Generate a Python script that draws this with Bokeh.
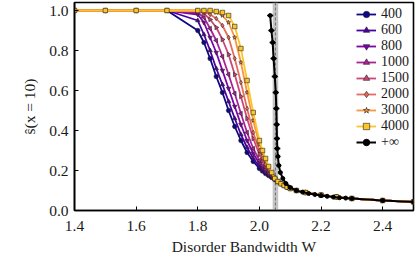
import numpy as np
from bokeh.plotting import figure
from bokeh.models import BoxAnnotation, Span, Legend, LegendItem
from bokeh.embed import file_html
from bokeh.resources import INLINE

# ---------------- data ----------------
labels = ["400", "600", "800", "1000", "1500", "2000", "3000", "4000"]

W_head = [1.4, 1.5, 1.6, 1.7, 1.8, 1.82, 1.84, 1.86, 1.88, 1.9, 1.92, 1.94,
          1.96, 1.98, 2.0, 2.01, 2.02, 2.03, 2.04, 2.05]
W_tail = [2.06, 2.07, 2.08, 2.09, 2.1, 2.12, 2.15, 2.2, 2.25, 2.3, 2.4, 2.5]
s_tail = [0.145, 0.134, 0.125, 0.117, 0.11, 0.10, 0.09, 0.077, 0.068, 0.06, 0.05, 0.043]

s_400 = [1, 1, 1, 1, 0.90, 0.84, 0.76, 0.67, 0.59, 0.50, 0.42, 0.35, 0.29, 0.245,
         0.21, 0.197, 0.185, 0.175, 0.165, 0.155]
s_600 = [1, 1, 1, 1, 0.95, 0.88, 0.80, 0.71, 0.63, 0.545, 0.46, 0.38, 0.315, 0.26,
         0.22, 0.203, 0.19, 0.178, 0.167, 0.156]
s_800 = [1, 1, 1, 1, 0.98, 0.94, 0.865, 0.79, 0.70, 0.61, 0.52, 0.43, 0.35, 0.285,
         0.235, 0.213, 0.195, 0.181, 0.169, 0.157]
s_1000 = [1, 1, 1, 1, 0.99, 0.965, 0.91, 0.85, 0.77, 0.68, 0.585, 0.485, 0.39, 0.31,
          0.25, 0.225, 0.205, 0.188, 0.173, 0.16]
s_1500 = [1, 1, 1, 1, 1.0, 0.985, 0.955, 0.915, 0.855, 0.78, 0.68, 0.57, 0.46, 0.36,
          0.28, 0.248, 0.22, 0.198, 0.18, 0.164]
s_2000 = [1, 1, 1, 1, 1.0, 0.995, 0.98, 0.96, 0.925, 0.865, 0.76, 0.64, 0.51, 0.39,
          0.30, 0.262, 0.23, 0.205, 0.185, 0.166]
s_3000 = [1, 1, 1, 1, 1.0, 1.0, 0.995, 0.99, 0.975, 0.94, 0.865, 0.74, 0.59, 0.45,
          0.33, 0.285, 0.245, 0.213, 0.19, 0.166]
s_4000 = [1, 1, 1, 1, 1.0, 1.0, 1.0, 0.995, 0.99, 0.975, 0.92, 0.81, 0.65, 0.49,
          0.35, 0.30, 0.26, 0.22, 0.19, 0.16]

W_inf = [2.035, 2.039, 2.043, 2.046, 2.05, 2.053, 2.055, 2.056, 2.057, 2.058, 2.060,
         2.063, 2.068, 2.076, 2.086, 2.1, 2.12, 2.14, 2.16, 2.18, 2.2, 2.22, 2.24,
         2.26, 2.28, 2.3, 2.4, 2.5]
s_inf = [0.975, 0.90, 0.84, 0.76, 0.67, 0.59, 0.51, 0.43, 0.36, 0.31, 0.27, 0.225,
         0.19, 0.16, 0.135, 0.115, 0.10, 0.092, 0.085, 0.08, 0.075, 0.071, 0.067,
         0.064, 0.062, 0.06, 0.05, 0.043]
err_inf = [0.01, 0.01, 0.01, 0.01, 0.01, 0.01, 0.01, 0.01, 0.01, 0.01, 0.008, 0.008,
           0.006, 0.006, 0.005, 0.005, 0.004, 0.004, 0.004, 0.004, 0.004, 0.004,
           0.004, 0.004, 0.004, 0.004, 0.004, 0.004]

W_c = 2.052
W_c_lo = 2.043
W_c_hi = 2.061

x_ticks = [1.4, 1.6, 1.8, 2.0, 2.2, 2.4]
x_tick_labels = ["1.4", "1.6", "1.8", "2.0", "2.2", "2.4"]
y_ticks = [0.0, 0.2, 0.4, 0.6, 0.8, 1.0]
y_tick_labels = ["0.0", "0.2", "0.4", "0.6", "0.8", "1.0"]

series = [s_400, s_600, s_800, s_1000, s_1500, s_2000, s_3000, s_4000]
colors = ["#0d0887", "#4c02a1", "#7e03a8", "#a92395", "#cc4778", "#e66c5c",
          "#f89540", "#fdc527"]
marks = [("circle", 0.0), ("triangle", 0.0), ("inverted_triangle", 0.0),
         ("triangle", np.pi / 2), ("triangle", -np.pi / 2), ("diamond", 0.0),
         ("star", 0.0), ("square", 0.0)]

FONT = "Liberation Serif"
TXT = "#1a1a1a"

p = figure(width=415, height=257, x_range=(1.4, 2.5), y_range=(0.0, 1.04),
           output_backend="svg", toolbar_location=None,
           min_border_left=74, min_border_right=2, min_border_top=2,
           min_border_bottom=0)
p.grid.visible = False
p.outline_line_color = "black"
p.outline_line_width = 1.6

band = BoxAnnotation(left=W_c_lo, right=W_c_hi, fill_color="#b0b0b0",
                     fill_alpha=0.75, line_color=None, level="underlay")
p.add_layout(band)
p.add_layout(Span(location=W_c, dimension="height", line_color="#707070",
                  line_dash="3 2", line_width=1, level="underlay"))

items = []
for lab, s_head, col, (mk, ang) in zip(labels, series, colors, marks):
    xs = W_head + W_tail
    ys = s_head + s_tail
    r1 = p.line(xs, ys, line_color=col, line_width=1.8)
    r2 = p.scatter(xs, ys, marker=mk, angle=ang, size=4.5, fill_color=col,
                   line_color="#222222", line_width=0.6)
    items.append(LegendItem(label=lab, renderers=[r1, r2]))

x0 = [w - e for w, e in zip(W_inf, err_inf)]
x1 = [w + e for w, e in zip(W_inf, err_inf)]
p.segment(x0=x0, x1=x1, y0=s_inf, y1=s_inf, line_color="black", line_width=1.5)
rb1 = p.line(W_inf, s_inf, line_color="black", line_width=2)
rb2 = p.scatter(W_inf, s_inf, marker="circle", size=4, fill_color="black",
                line_color="black")
items.append(LegendItem(label="+∞", renderers=[rb1, rb2]))

legend = Legend(items=items, location="top_right")
legend.border_line_alpha = 0
legend.background_fill_alpha = 0
legend.label_text_font = FONT
legend.label_text_font_size = "14px"
legend.label_text_color = TXT
legend.glyph_width = 20
legend.glyph_height = 16
legend.label_height = 16
legend.spacing = 0
legend.padding = 3
legend.margin = 1
legend.label_standoff = 5
p.add_layout(legend)

for ax in (p.xaxis, p.yaxis):
    ax.axis_line_width = 1.6
    ax.axis_line_color = "black"
    ax.major_tick_in = 4
    ax.major_tick_out = 0
    ax.minor_tick_line_color = None
    ax.major_label_text_font = FONT
    ax.major_label_text_font_size = "15.5px"
    ax.major_label_text_color = TXT
    ax.axis_label_text_font = FONT
    ax.axis_label_text_font_size = "15.5px"
    ax.axis_label_text_font_style = "normal"
    ax.axis_label_text_color = TXT

p.xaxis.ticker = x_ticks
p.xaxis.major_label_overrides = dict(zip(x_ticks, x_tick_labels))
p.yaxis.ticker = y_ticks
p.yaxis.major_label_overrides = dict(zip(y_ticks, y_tick_labels))
p.xaxis.major_label_text_line_height = 0.9
p.xaxis.axis_label_text_line_height = 0.9
p.xaxis.major_label_standoff = 10
p.yaxis.major_label_standoff = 6
p.xaxis.axis_label = "Disorder Bandwidth W"
p.yaxis.axis_label = "ŝ(x = 10)"
p.xaxis.axis_label_standoff = 4
p.yaxis.axis_label_standoff = 8

open("out.html", "w").write(file_html(p, INLINE))
